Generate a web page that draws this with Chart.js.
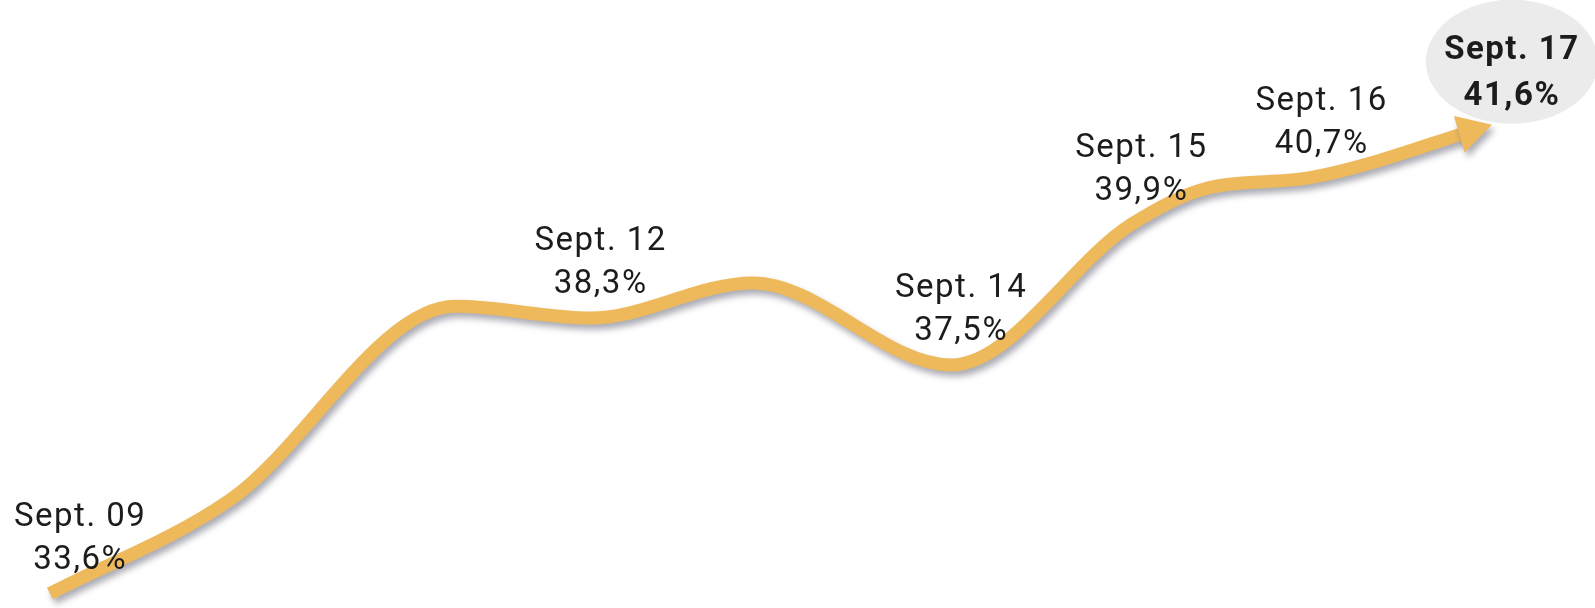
<!DOCTYPE html>
<html>
<head>
<meta charset="utf-8">
<script src="https://cdn.jsdelivr.net/npm/chart.js@4.4.0/dist/chart.umd.min.js"></script>
<style>
  html, body { margin: 0; padding: 0; background: #fff; }
  #wrap { width: 1595px; height: 608px; }
</style>
</head>
<body>
<div id="wrap"><canvas id="trendChart" width="1595" height="608"></canvas></div>
<script>
// share readings along the curve (x = day of September)
const pointDays   = [9, 10, 11.25, 12, 12.9, 14, 15, 15.4, 16, 17];
const pointShares = [33.6, 35.2, 38.5, 38.3, 38.9, 37.5, 39.9, 40.5, 40.7, 41.6];

// days that get a caption
const labelDays  = [9, 12, 14, 15, 16, 17];
const labelTexts = ['Sept. 09', 'Sept. 12', 'Sept. 14', 'Sept. 15', 'Sept. 16', 'Sept. 17'];
const highlightDay = 17;

const LINE_COLOR = '#EDB95B';
const SHADOW = 'rgba(70, 70, 90, 0.45)';
const ARROW_LEN = 34;
const ARROW_HALF = 19;

function fmtShare(v) {
  return v.toFixed(1).replace('.', ',') + '%';
}

// direction of the curve at its last point, for the arrow head
function arrowGeom(chart) {
  const pts = chart.getDatasetMeta(0).data;
  const tip = pts[pts.length - 1];
  let dx = tip.x - tip.cp1x, dy = tip.y - tip.cp1y;
  if (!isFinite(dx) || Math.hypot(dx, dy) < 0.5) {
    const prev = pts[pts.length - 2];
    dx = tip.x - prev.x; dy = tip.y - prev.y;
  }
  const len = Math.hypot(dx, dy);
  const ux = dx / len, uy = dy / len;
  return {
    tx: tip.x, ty: tip.y, ux, uy, nx: -uy, ny: ux,
    bx: tip.x - ux * ARROW_LEN, by: tip.y - uy * ARROW_LEN
  };
}

function setShadow(ctx) {
  ctx.shadowColor = SHADOW;
  ctx.shadowOffsetX = 3;
  ctx.shadowOffsetY = 5;
  ctx.shadowBlur = 6;
}

const arrowLine = {
  id: 'arrowLine',
  beforeDatasetDraw(chart) {
    const g = arrowGeom(chart);
    const ctx = chart.ctx;
    ctx.save();
    // stop the stroke just past the arrow base
    const bx = g.bx + g.ux * 3, by = g.by + g.uy * 3, F = 4000;
    ctx.beginPath();
    ctx.moveTo(bx + g.nx * F, by + g.ny * F);
    ctx.lineTo(bx + g.nx * F - g.ux * F, by + g.ny * F - g.uy * F);
    ctx.lineTo(bx - g.nx * F - g.ux * F, by - g.ny * F - g.uy * F);
    ctx.lineTo(bx - g.nx * F, by - g.ny * F);
    ctx.closePath();
    ctx.clip();
    setShadow(ctx);
  },
  afterDatasetDraw(chart) {
    const ctx = chart.ctx;
    ctx.restore();
    const g = arrowGeom(chart);
    ctx.save();
    setShadow(ctx);
    ctx.fillStyle = LINE_COLOR;
    ctx.beginPath();
    ctx.moveTo(g.tx, g.ty);
    ctx.lineTo(g.bx + g.nx * ARROW_HALF, g.by + g.ny * ARROW_HALF);
    ctx.lineTo(g.bx - g.nx * ARROW_HALF, g.by - g.ny * ARROW_HALF);
    ctx.closePath();
    ctx.fill();
    ctx.restore();
  }
};

// date + share captions above the curve
const captions = {
  id: 'captions',
  afterDraw(chart) {
    const ctx = chart.ctx;
    const pts = chart.getDatasetMeta(0).data;
    ctx.save();
    ctx.textAlign = 'center';
    ctx.textBaseline = 'middle';
    ctx.letterSpacing = '1.5px';
    labelDays.forEach((day, i) => {
      const idx = pointDays.indexOf(day);
      const p = pts[idx];
      const hot = day === highlightDay;
      ctx.font = (hot ? '700' : '400') + ' 33px Roboto';
      const half = ctx.measureText(labelTexts[i]).width / 2;
      // keep the first caption inside the canvas
      const x = Math.max(p.x + (hot ? 20 : 10), half + 14);
      const y1 = p.y - (hot ? 74 : 76);
      const y2 = p.y - (hot ? 28 : 33);
      if (hot) {
        ctx.fillStyle = '#EBEBEB';
        ctx.beginPath();
        ctx.ellipse(x, (y1 + y2) / 2 - 12, 86, 62, 0, 0, Math.PI * 2);
        ctx.fill();
      }
      ctx.fillStyle = '#1c1c1c';
      ctx.fillText(labelTexts[i], x, y1);
      ctx.fillText(fmtShare(pointShares[idx]), x, y2);
    });
    ctx.restore();
  }
};

new Chart(document.getElementById('trendChart'), {
  type: 'line',
  data: {
    datasets: [{
      data: pointDays.map((d, i) => ({ x: d, y: pointShares[i] })),
      borderColor: LINE_COLOR,
      borderWidth: 13,
      borderCapStyle: 'butt',
      borderJoinStyle: 'round',
      cubicInterpolationMode: 'monotone',
      pointRadius: 0,
      fill: false,
      clip: false
    }]
  },
  options: {
    responsive: false,
    animation: false,
    layout: { padding: 0 },
    plugins: { legend: { display: false }, tooltip: { enabled: false } },
    scales: {
      x: { type: 'linear', min: 8.723, max: 17.572, display: false },
      y: { min: 33.353, max: 43.728, display: false }
    }
  },
  plugins: [arrowLine, captions]
});
</script>
</body>
</html>
